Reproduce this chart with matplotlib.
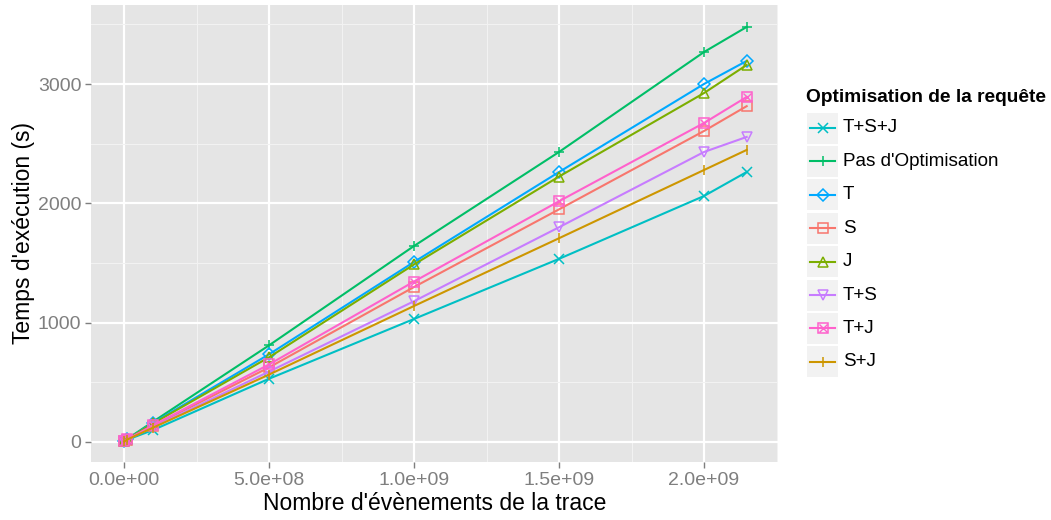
import matplotlib.pyplot as plt
from matplotlib.lines import Line2D
from matplotlib.patches import Rectangle
from matplotlib.ticker import FixedLocator

plt.rcParams['font.family'] = ['Liberation Sans', 'DejaVu Sans']

# Data
events = [1e6, 1e7, 1e8, 5e8, 1e9, 1.5e9, 2e9, 2.147e9]
series_names = ['T+S+J', "Pas d'Optimisation", 'T', 'S', 'J', 'T+S', 'T+J', 'S+J']
times = {
    'T+S+J':              [4, 18, 100, 530, 1031, 1535, 2062, 2263],
    "Pas d'Optimisation": [6, 24, 170, 810, 1643, 2431, 3269, 3479],
    'T':                  [5, 22, 160, 735, 1509, 2263, 3001, 3194],
    'S':                  [5, 20, 135, 625, 1299, 1950, 2607, 2815],
    'J':                  [5, 22, 155, 710, 1488, 2225, 2925, 3160],
    'T+S':                [4, 20, 125, 590, 1180, 1800, 2431, 2557],
    'T+J':                [5, 21, 140, 650, 1345, 2018, 2674, 2892],
    'S+J':                [4, 19, 120, 565, 1140, 1708, 2280, 2448],
}
colors = ['#00BFC4', '#00BE67', '#00A9FF', '#F8766D', '#7CAE00', '#C77CFF', '#FF61CC', '#CD9600']
markers = ['x', '+', 'D', 's', '^', 'v', 's', '|']
x_ticks = [0, 5e8, 1e9, 1.5e9, 2e9]
x_tick_labels = ['0.0e+00', '5.0e+08', '1.0e+09', '1.5e+09', '2.0e+09']
y_ticks = [0, 1000, 2000, 3000]

fig = plt.figure(figsize=(10.51, 5.2), dpi=100)
ax = fig.add_axes([91 / 1051, 1 - 462 / 520, (778 - 91) / 1051, (462 - 5) / 520])
ax.set_facecolor('#E5E5E5')
for s in ax.spines.values():
    s.set_visible(False)

for i, name in enumerate(series_names):
    msize = 6.5 if markers[i] == 'D' else 7.5
    ax.plot(events, times[name], color=colors[i], lw=1.5, marker=markers[i],
            markersize=msize, markerfacecolor='none', markeredgecolor=colors[i],
            markeredgewidth=1.1, zorder=3)
    if name == 'T+J':
        ax.plot(events, times[name], color=colors[i], lw=0, marker='x',
                markersize=5.5, markeredgewidth=1.0, zorder=3)

ax.set_xlim(-1.14e8, 2.255e9)
ax.set_ylim(-168, 3663)
ax.set_xticks(x_ticks)
ax.set_xticklabels(x_tick_labels)
ax.set_yticks(y_ticks)
ax.xaxis.set_minor_locator(FixedLocator([2.5e8, 7.5e8, 1.25e9, 1.75e9, 2.25e9]))
ax.yaxis.set_minor_locator(FixedLocator([500, 1500, 2500, 3500]))
ax.grid(which='major', color='white', lw=1.6)
ax.grid(which='minor', color='#F2F2F2', lw=0.8)
ax.set_axisbelow(True)
ax.tick_params(which='major', length=4, width=1, color='#7F7F7F', labelcolor='#7F7F7F',
               labelsize=14, pad=3)
ax.tick_params(which='minor', length=0)

ax.set_xlabel("Nombre d'évènements de la trace", fontsize=16.5, labelpad=2)
ax.set_ylabel("Temps d'exécution (s)", fontsize=16.5, labelpad=2)

# legend drawn by hand in figure pixels
fig.text(806 / 1051, 1 - 97 / 520, 'Optimisation de la requête', fontsize=13.8,
         fontweight='bold', va='center', ha='left')
for i, name in enumerate(series_names):
    yc = 128 + i * 33.4
    fig.patches.append(Rectangle((807 / 1051, 1 - (yc + 15.5) / 520), 31 / 1051, 31 / 520,
                                 transform=fig.transFigure, facecolor='#F2F2F2',
                                 edgecolor='none'))
    xs = [810 / 1051, 835 / 1051]
    ys = [1 - yc / 520, 1 - yc / 520]
    msize = 6.5 if markers[i] == 'D' else 7.5
    fig.lines.append(Line2D(xs, ys, transform=fig.transFigure, color=colors[i], lw=1.5))
    fig.lines.append(Line2D([822.5 / 1051], [1 - yc / 520], transform=fig.transFigure,
                            marker=markers[i], markersize=msize, markerfacecolor='none',
                            markeredgecolor=colors[i], markeredgewidth=1.1, lw=0))
    if name == 'T+J':
        fig.lines.append(Line2D([822.5 / 1051], [1 - yc / 520], transform=fig.transFigure,
                                marker='x', markersize=5.5, color=colors[i], lw=0))
    fig.text(843 / 1051, 1 - yc / 520, name, fontsize=13.6, va='center', ha='left')

fig.savefig('out.png', dpi=100)
